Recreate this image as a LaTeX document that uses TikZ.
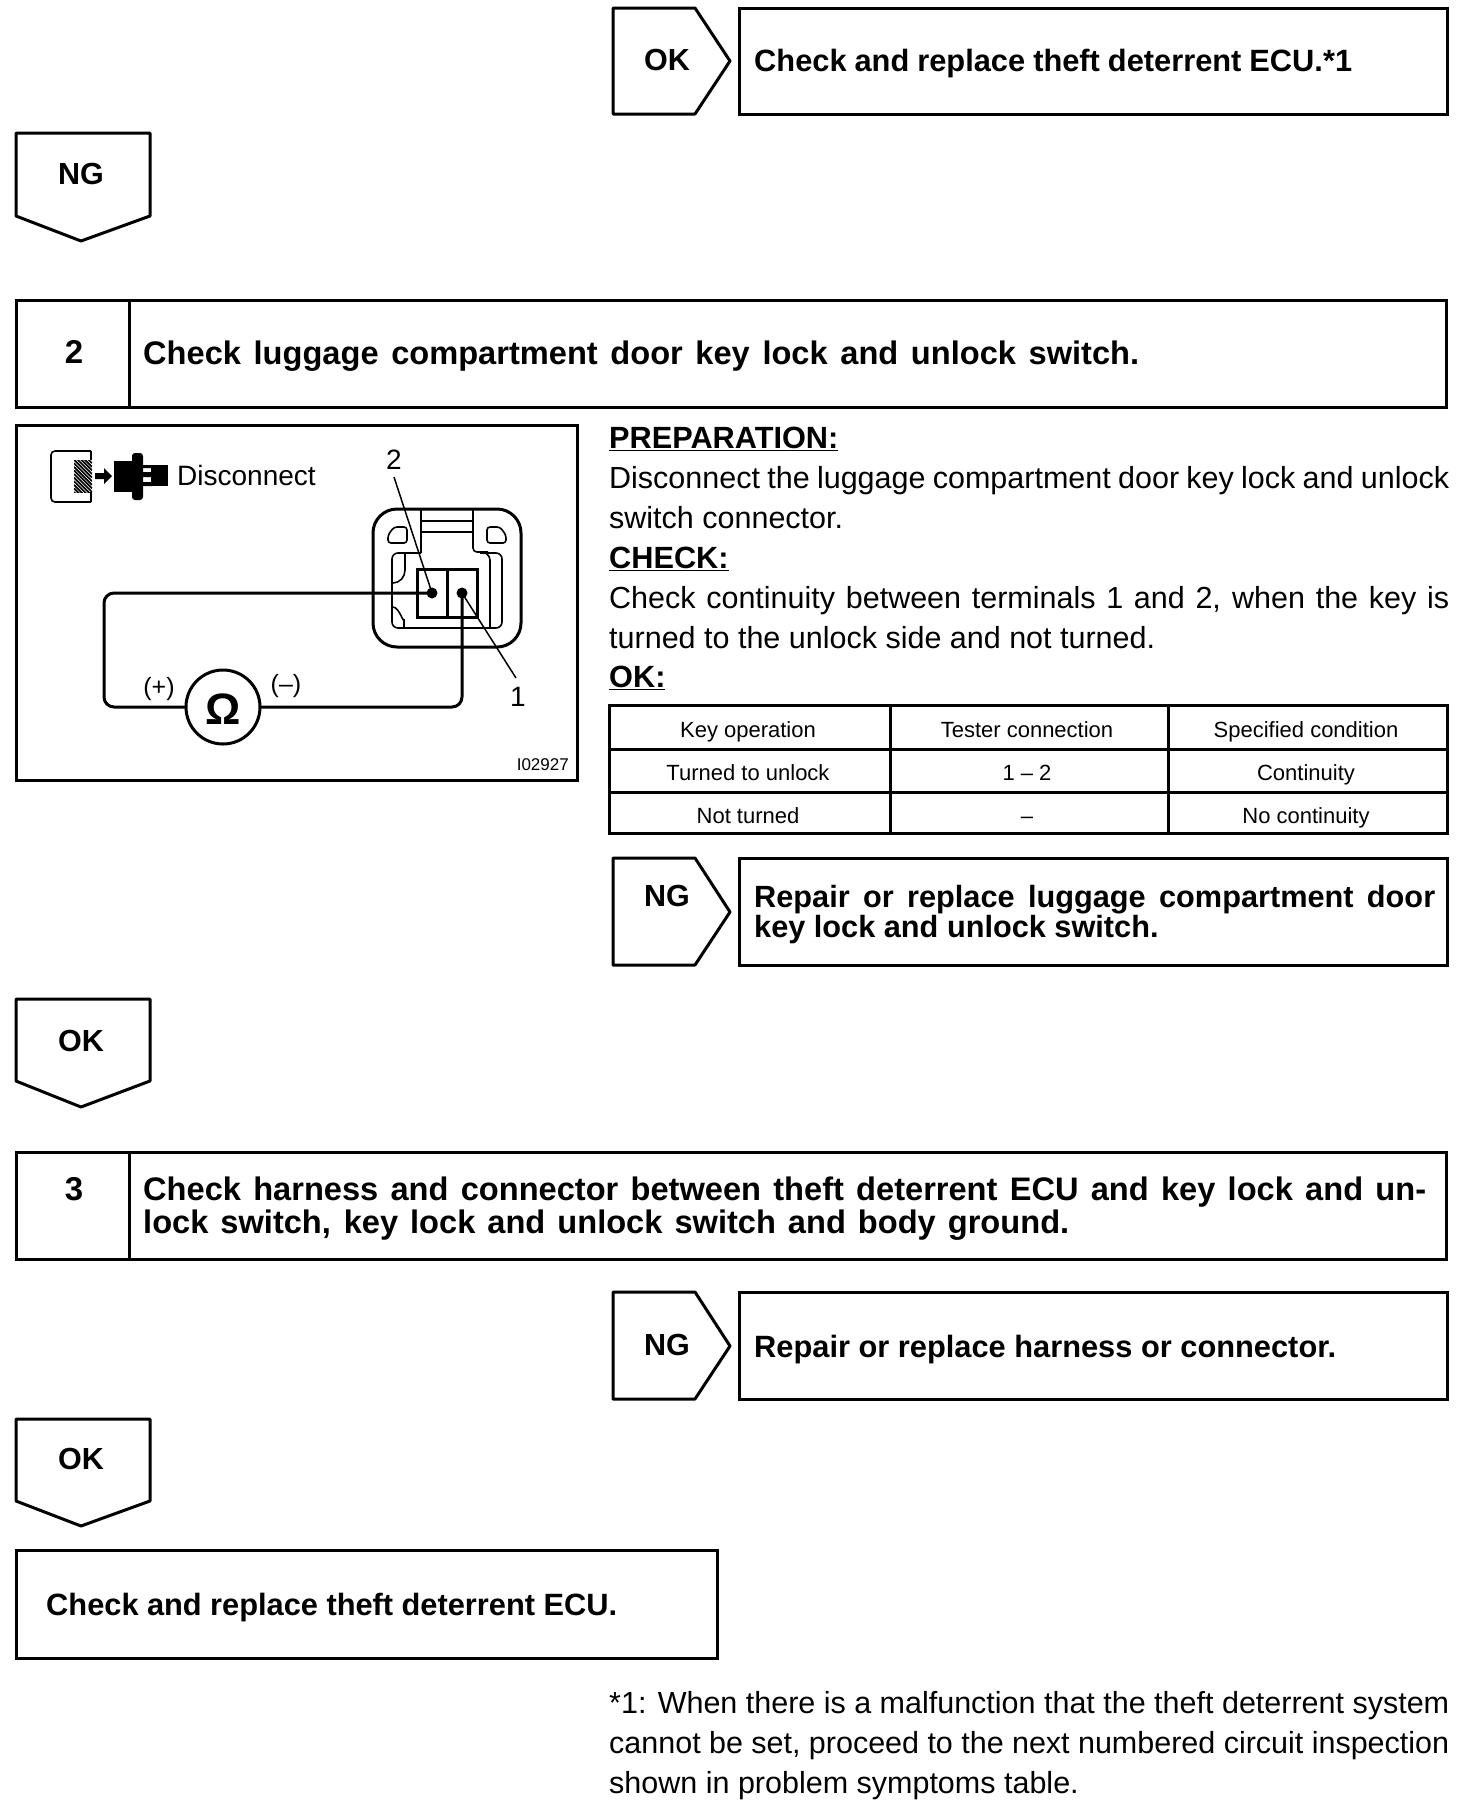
\documentclass[tikz,border=0pt]{standalone}
\usepackage{fontspec}
\setmainfont{Liberation Sans}
\newcommand{\fitw}[2]{\makebox[#1pt][s]{#2}}
\tikzset{
  x=1pt,y=-1pt,
  frame/.style={draw=black,line width=3pt,fill=white,line join=miter,outer sep=0pt,inner sep=0pt},
  flag/.style={draw=black,line width=3pt,line join=round,fill=white},
  thin part/.style={draw=black,line width=1.6pt},
  wire/.style={draw=black,line width=3pt,rounded corners=10pt},
  leader/.style={draw=black,line width=1.5pt},
  head/.style={inner sep=0pt,anchor=base west,font=\bfseries\fontsize{30.7}{32}\selectfont},
  title/.style={inner sep=0pt,anchor=base west,font=\bfseries\fontsize{32.6}{34}\selectfont},
  result/.style={inner sep=0pt,anchor=base west,font=\bfseries\fontsize{30.8}{34}\selectfont},
  flagtext/.style={inner sep=0pt,anchor=center,font=\bfseries\fontsize{30.5}{32}\selectfont},
  stepnum/.style={inner sep=0pt,anchor=center,font=\bfseries\fontsize{33}{34}\selectfont},
  body/.style={inner sep=0pt,anchor=base west,font=\fontsize{30.5}{34}\selectfont},
  cell/.style={inner sep=0pt,anchor=base,font=\fontsize{22}{26}\selectfont},
  fig/.style={inner sep=0pt,anchor=center,font=\fontsize{28}{30}\selectfont},
  dot/.style={circle,fill=black,inner sep=0pt,minimum size=11pt},
}
\begin{document}
\begin{tikzpicture}
\useasboundingbox (0,0) rectangle (1472,1808);
% row 1
\draw[flag] (613,8) -- (695,8) -- (730,61) -- (695,114) -- (613,114) -- cycle;
\node[flagtext] (ok1) at (667,60) {OK};
\node[frame,minimum width=708pt,minimum height=106pt,anchor=north west] (b1) at (739,8) {};
\node[result] (t1) at (754,71) {\fitw{598}{Check and replace theft deterrent ECU.*1}};
\draw[flag] (16,133) -- (150,133) -- (150,216) -- (81,241) -- (16,216) -- cycle;
\node[flagtext] (ng1) at (81,174) {NG};
% step 2
\node[frame,minimum width=1430pt,minimum height=107pt,anchor=north west] (s2) at (16,300) {};
\draw[line width=3pt] (129,300) -- (129,407);
\node[stepnum] (n2) at (74,352) {2};
\node[title] (t2) at (143,364) {\fitw{996}{Check luggage compartment door key lock and unlock switch.}};
% figure
\node[frame,minimum width=561pt,minimum height=355pt,anchor=north west] (figbox) at (16,425) {};
\draw[line width=1.6pt,rounded corners=4pt] (91,451) -- (51,451) -- (51,502) -- (91,502);
\begin{scope}
\clip (74,460) rectangle (92,492);
\foreach \k in {0,3.6,...,60} {\draw[line width=1.7pt] (74,{460-22+\k}) -- (92,{460-22+\k+18});}
\end{scope}
\draw[line width=1.6pt] (91,451) -- (91,460) (91,492) -- (91,502);
\fill (95,473) -- (104,473) -- (104,468) -- (112,476) -- (104,484) -- (104,479) -- (95,479) -- cycle;
\fill (114,461) rectangle (133,492);
\fill[rounded corners=3pt] (132,453) rectangle (143,500);
\fill (143,465) rectangle (152,468) (143,472) rectangle (152,477) (143,482) rectangle (152,486);
\fill (151,465) rectangle (168,486);
\node[fig,anchor=base west] (disc) at (177,485) {Disconnect};
\node[fig] (lab2) at (394,460) {2};
\node[fig] (lab1) at (518,697) {1};
\draw[line width=3pt,rounded corners=24pt] (373,509) rectangle (521,647);
\draw[thin part,rounded corners=3pt] (421,509) -- (421,553);
\draw[thin part,rounded corners=4pt] (473,509) -- (473,552) -- (488,552);
\draw[line width=2.2pt] (421,521) -- (473,521);
\draw[thin part] (421,532) -- (473,532);
\draw[thin part,rounded corners=3pt] (407,527) -- (394,527) -- (388,535) -- (388,543) -- (407,543) -- cycle;
\draw[thin part,rounded corners=3pt] (487,527) -- (500,527) -- (506,535) -- (506,543) -- (487,543) -- cycle;
\draw[thin part,rounded corners=6pt] (421,553) -- (392,553) -- (392,628) -- (502,628) -- (502,553) -- (480,553);
\draw[thin part,rounded corners=4pt] (484,552) -- (490,556) -- (490,628);
\draw[thin part] (405,553) -- (405,570) to[out=-90,in=0] (393,583);
\draw[thin part] (393,607) to[out=0,in=-90] (404,619) -- (404,628);
\draw[line width=3pt,fill=white] (417,569) rectangle (477,617);
\draw[line width=3pt] (447,569) -- (447,617);
\node[dot] (p2) at (432,593) {};
\node[dot] (p1) at (462,593) {};
\node[circle,draw=black,line width=3pt,minimum size=74pt,inner sep=0pt,outer sep=0pt] (ohm) at (223,707) {};
\node[inner sep=0pt,font=\bfseries\fontsize{44}{46}\selectfont] (om) at (223,709) {Ω};
\draw[wire] (p2.center) -- (104,593) -- (104,707) -- (ohm.west);
\draw[wire] (p1.center) -- (462,707) -- (ohm.east);
\draw[leader] (394,477) -- (p2.center);
\draw[leader] (p1.center) -- (516,678);
\node[inner sep=0pt,font=\fontsize{25}{27}\selectfont] (plus) at (159,689) {(+)};
\node[inner sep=0pt,font=\fontsize{25}{27}\selectfont] (minus) at (286,686) {(–)};
\node[inner sep=0pt,anchor=east,font=\fontsize{17}{19}\selectfont] (code) at (569,765) {I02927};
% right column text
\node[head] (prep) at (609,448) {\underline{PREPARATION:}};
\node[body] (l1) at (609,488) {\fitw{840}{Disconnect the luggage compartment door key lock and unlock}};
\node[body] (l2) at (609,528) {switch connector.};
\node[head] (chk) at (609,568) {\underline{CHECK:}};
\node[body] (l3) at (609,608) {\fitw{840}{Check continuity between terminals 1 and 2, when the key is}};
\node[body] (l4) at (609,648) {turned to the unlock side and not turned.};
\node[head] (okl) at (609,687) {\underline{OK:}};
% table
\node[frame,minimum width=838pt,minimum height=128pt,anchor=north west] (tbl) at (609,705) {};
\draw[line width=3pt] (609,749) -- (1447,749) (609,792) -- (1447,792) (890,705) -- (890,833) (1168,705) -- (1168,833);
\node[cell] (c11) at (748,737) {Key operation};
\node[cell] (c12) at (1027,737) {Tester connection};
\node[cell] (c13) at (1306,737) {Specified condition};
\node[cell] (c21) at (748,780) {Turned to unlock};
\node[cell] (c22) at (1027,780) {1 – 2};
\node[cell] (c23) at (1306,780) {Continuity};
\node[cell] (c31) at (748,823) {Not turned};
\node[cell] (c32) at (1027,823) {–};
\node[cell] (c33) at (1306,823) {No continuity};
% NG 2
\draw[flag] (613,858) -- (695,858) -- (730,912) -- (695,965) -- (613,965) -- cycle;
\node[flagtext] (ng2) at (667,896) {NG};
\node[frame,minimum width=708pt,minimum height=107pt,anchor=north west] (b2) at (739,858) {};
\node[head] (t3) at (754,907) {\fitw{681}{Repair or replace luggage compartment door}};
\node[head] (t4) at (754,937) {key lock and unlock switch.};
\draw[flag] (16,999) -- (150,999) -- (150,1081) -- (81,1107) -- (16,1081) -- cycle;
\node[flagtext] (ok2) at (81,1041) {OK};
% step 3
\node[frame,minimum width=1430pt,minimum height=107pt,anchor=north west] (s3) at (16,1152) {};
\draw[line width=3pt] (129,1152) -- (129,1259);
\node[stepnum] (n3) at (74,1189) {3};
\node[title] (t5) at (143,1200) {\fitw{1283}{Check harness and connector between theft deterrent ECU and key lock and un-}};
\node[title] (t6) at (143,1233) {\fitw{926}{lock switch, key lock and unlock switch and body ground.}};
% NG 3
\draw[flag] (613,1292) -- (695,1292) -- (730,1346) -- (695,1399) -- (613,1399) -- cycle;
\node[flagtext] (ng3) at (667,1345) {NG};
\node[frame,minimum width=708pt,minimum height=107pt,anchor=north west] (b3) at (739,1292) {};
\node[result] (t7) at (754,1357) {\fitw{582}{Repair or replace harness or connector.}};
\draw[flag] (16,1419) -- (150,1419) -- (150,1501) -- (81,1526) -- (16,1501) -- cycle;
\node[flagtext] (ok3) at (81,1459) {OK};
\node[frame,minimum width=701pt,minimum height=108pt,anchor=north west] (last) at (16,1550) {};
\node[result] (t8) at (46,1615) {\fitw{571}{Check and replace theft deterrent ECU.}};
% footnote
\node[body] (f1) at (609,1713) {\fitw{840}{*1: When there is a malfunction that the theft deterrent system}};
\node[body] (f2) at (609,1753) {\fitw{840}{cannot be set, proceed to the next numbered circuit inspection}};
\node[body] (f3) at (609,1793) {shown in problem symptoms table.};
\end{tikzpicture}
\end{document}
